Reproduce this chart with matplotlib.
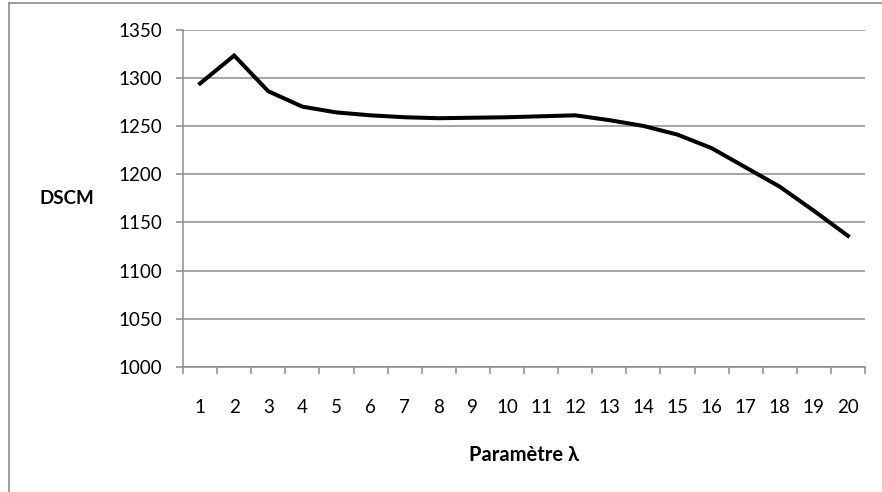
import matplotlib
matplotlib.use("Agg")
import matplotlib.pyplot as plt
from matplotlib.lines import Line2D
import numpy as np

# DSCM as a function of lambda
lambdas = list(range(1, 21))
dscm = [1294, 1323, 1286, 1270, 1264, 1261, 1259, 1258, 1258.5, 1259,
        1260, 1261, 1256, 1250, 1241, 1227, 1207, 1187, 1162, 1136]
y_ticks = [1000, 1050, 1100, 1150, 1200, 1250, 1300, 1350]

plt.rcParams['font.family'] = ['Lato', 'DejaVu Sans']
grid_color = '#8c8c8c'

fig = plt.figure(figsize=(8.82, 4.92), dpi=100)
ax = fig.add_axes([183 / 882, 1 - 367 / 492, (865 - 183) / 882, (367 - 29.5) / 492])

ax.plot(lambdas, dscm, color='black', linewidth=2.9, solid_joinstyle='miter', zorder=3)

ax.set_xlim(0.5, 20.5)
ax.set_ylim(1000, 1350)
ax.set_yticks(y_ticks)
ax.set_xticks(lambdas)
ax.set_xticks(np.arange(0.5, 21, 1), minor=True)
ax.grid(axis='y', color=grid_color, linewidth=1.1)
ax.set_axisbelow(True)

for side in ['top', 'right']:
    ax.spines[side].set_visible(False)
for side in ['left', 'bottom']:
    ax.spines[side].set_color(grid_color)
    ax.spines[side].set_linewidth(1.1)

ax.tick_params(axis='y', length=5, width=1.1, color=grid_color, pad=10, labelsize=13.5)
ax.tick_params(axis='x', which='major', length=0, pad=23, labelsize=13.5)
ax.tick_params(axis='x', which='minor', length=5, width=1.1, color=grid_color)

ax.set_xlabel('Paramètre λ', fontsize=14.5, fontweight='bold', labelpad=21)
ax.set_ylabel('DSCM', fontsize=13.5, fontweight='bold', rotation=0, labelpad=37, va='center')

# chart area border
fig.add_artist(Line2D([9 / 882, 9 / 882], [0, 1 - 3 / 492], color=grid_color, linewidth=1.2,
                      transform=fig.transFigure))
fig.add_artist(Line2D([9 / 882, 1], [1 - 3 / 492, 1 - 3 / 492], color=grid_color, linewidth=1.2,
                      transform=fig.transFigure))

fig.savefig('out.png', dpi=100)
